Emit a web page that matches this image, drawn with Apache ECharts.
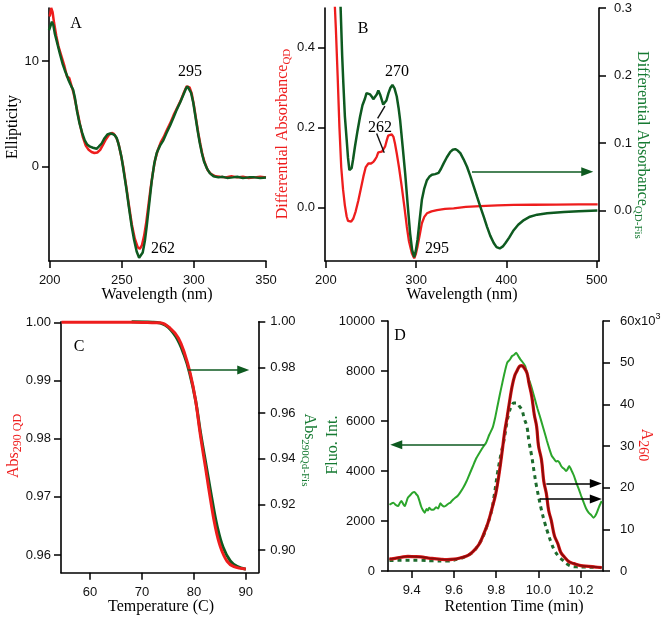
<!DOCTYPE html>
<html><head><meta charset="utf-8">
<script src="https://cdn.jsdelivr.net/npm/echarts@6/dist/echarts.min.js"></script>
<style>html,body{margin:0;padding:0;background:#fff}#c{width:664px;height:620px}</style>
</head><body><div id="c"></div>
<script>
// ---------- DATA ----------
// Panel A: CD spectra (wavelength nm, ellipticity)
const aRed = [[200,14.2],[201,15.0],[202,14.6],[203,13.6],[204.5,12.4],[206,11.4],[208,10.5],[210,9.6],[212,8.5],[213.5,8.4],[215,7.7],[216.5,7.0],[218,6.0],[219.5,5.0],[221,4.0],[223,2.8],[225,2.0],[227,1.6],[229,1.4],[231,1.3],[233,1.35],[235,1.6],[237,2.1],[239,2.6],[241,3.0],[243,3.2],[244.5,3.1],[246,2.8],[247.5,2.3],[249,1.4],[251,0.0],[253,-1.8],[255,-3.7],[257,-5.5],[259,-6.8],[261,-7.6],[262.5,-7.75],[264,-7.4],[265.5,-6.5],[267,-5.2],[268.5,-3.6],[270,-2.0],[271.5,-0.6],[273,0.6],[275,1.6],[277,2.3],[279,2.8],[281,3.4],[283.5,4.1],[286,4.9],[288.5,5.6],[291,6.3],[293,7.0],[295,7.6],[296,7.75],[297,7.5],[298.5,6.9],[300,5.8],[301.5,4.5],[303,3.2],[304.5,2.1],[306,1.1],[307.5,0.4],[309.5,-0.3],[312,-0.7],[315,-0.9],[318,-0.95],[322,-1.0],[326,-0.9],[330,-1.0],[334,-0.95],[338,-1.05],[342,-1.0],[346,-0.95],[350,-1.0]];
const aGreen = [[199.5,12.9],[200.5,13.3],[201.5,13.7],[202.5,13.4],[203.5,12.6],[205,11.8],[207,10.7],[209,9.7],[210.5,9.1],[212,8.6],[213,8.2],[214,7.9],[215,7.6],[216.2,7.3],[217.5,6.5],[219,5.2],[220.5,4.2],[222.5,3.2],[224.3,2.5],[226,2.1],[228,1.9],[230,1.8],[232.5,1.7],[234,1.9],[236,2.2],[238,2.7],[240,3.05],[242,3.15],[243.5,3.1],[245,3.0],[246.5,2.7],[248,2.0],[249.8,0.9],[251.5,-0.6],[253.3,-2.2],[255,-3.9],[256.8,-5.6],[258.5,-6.9],[260.3,-8.0],[262,-8.6],[263.2,-8.5],[264.5,-8.1],[266,-7.0],[267.2,-5.7],[269,-3.5],[270.7,-1.4],[272.5,0.3],[274.2,1.3],[276.5,2.0],[278.8,2.5],[281,3.2],[283.5,3.9],[286,4.7],[288.1,5.4],[290.5,6.1],[292.7,6.8],[294.5,7.4],[295.5,7.6],[296.5,7.5],[298,7.0],[299.5,6.1],[301,4.8],[302.5,3.5],[304,2.3],[305.5,1.3],[307,0.5],[309,-0.15],[311,-0.6],[313.6,-0.9],[317,-1.0],[320,-0.95],[323,-1.05],[327,-1.0],[330,-0.95],[334,-1.05],[338,-1.0],[342,-1.0],[346,-1.05],[350,-1.02]];
const aXTicks = [200,250,300,350];
const aYTicks = [0,10];

// Panel B: differential absorbance (QD on left axis, QD-Fis on right axis)
const bRedQD = [[207,0.62],[209,0.55],[211,0.45],[213,0.33],[215,0.2],[217,0.1],[219,0.045],[221,0.005],[223,-0.023],[224.5,-0.034],[226,-0.038],[228,-0.036],[230.4,-0.028],[233,-0.01],[236,0.018],[239,0.05],[241.5,0.077],[244,0.1],[247,0.11],[250,0.11],[252.6,0.114],[254.5,0.12],[256.3,0.127],[258,0.138],[260,0.143],[262,0.14],[263.7,0.139],[265.5,0.152],[267.4,0.168],[269,0.18],[271,0.185],[273,0.183],[274.8,0.177],[276.5,0.16],[278.5,0.135],[281,0.1],[284,0.052],[287,0.0],[289.6,-0.048],[292,-0.085],[295.2,-0.115],[297.8,-0.128],[299.5,-0.118],[301.5,-0.098],[304,-0.068],[306.3,-0.04],[309,-0.024],[311.9,-0.015],[317,-0.01],[323,-0.007],[332,-0.004],[341.5,-0.0025],[355,0.001],[371,0.003],[390,0.005],[408,0.006],[430,0.0065],[455,0.007],[480,0.0072],[501,0.0075]];
const bGreenQDFis = [[214,0.38],[216.3,0.3],[218,0.23],[219.3,0.189],[221,0.14],[223,0.105],[224.5,0.078],[226,0.06],[227.3,0.058],[228.5,0.063],[230,0.075],[232.2,0.095],[235,0.118],[237.8,0.139],[240.5,0.156],[243.3,0.166],[245,0.174],[247,0.176],[249,0.172],[250.7,0.169],[252.5,0.165],[254.4,0.164],[256.3,0.172],[258.1,0.178],[260,0.172],[261.9,0.164],[263.5,0.157],[264.8,0.155],[267,0.163],[269.3,0.174],[271.5,0.182],[273.7,0.186],[276,0.181],[278.5,0.169],[280.5,0.152],[282.2,0.134],[285,0.095],[287.8,0.055],[290.5,0.01],[293.3,-0.034],[295.5,-0.058],[297.8,-0.069],[299.5,-0.06],[301.5,-0.043],[304,-0.012],[306.3,0.016],[309,0.033],[311.9,0.045],[314.5,0.05],[317.4,0.053],[321,0.054],[324.8,0.056],[327.5,0.062],[330.4,0.07],[334,0.079],[337.8,0.087],[340.5,0.09],[343.3,0.091],[346,0.089],[348.9,0.085],[352.5,0.076],[356.3,0.065],[360,0.051],[363.7,0.036],[367.3,0.021],[371,0.006],[374.8,-0.009],[378.5,-0.024],[382,-0.037],[385.9,-0.048],[389,-0.054],[392.6,-0.056],[396,-0.053],[398.9,-0.048],[403,-0.04],[408,-0.029],[413,-0.021],[419.3,-0.014],[426,-0.009],[434,-0.006],[445,-0.004],[463.7,-0.002],[480,-0.001],[500.7,0.0]];
const bXTicks = [200,300,400,500];
const bYLeftTicks = [0,0.2,0.4];
const bYRightTicks = [0,0.1,0.2,0.3];

// Panel C: melting curves (temperature, normalised absorbance)
const cRedQD = [[54.5,1.0],[60,1.0],[65,1.0],[68.4,1.0],[71,0.99995],[73.5,0.9999],[75.4,0.999],[77,0.9973],[78.3,0.9944],[79.3,0.9912],[80.3,0.9867],[81.2,0.9809],[82.2,0.9752],[83.2,0.9695],[84.1,0.9649],[85.1,0.9614],[86.4,0.9589],[87.7,0.958],[90,0.9576]];
const cGreenQDFis = [[68,1.0],[72,0.9998],[74.5,0.9985],[76.5,0.9935],[78.1,0.9855],[79.2,0.9773],[80.3,0.9658],[81.3,0.951],[82.4,0.9365],[83.5,0.922],[84.5,0.9102],[85.6,0.9013],[87,0.8952],[88.3,0.8928],[90,0.8916]];
const cXTicks = [60,70,80,90];
const cYLeftTicks = [0.96,0.97,0.98,0.99,1.00];
const cYRightTicks = [0.90,0.92,0.94,0.96,0.98,1.00];

// Panel D: chromatograms (retention time, min)
const dFluo = [[9.295,2650],[9.313,2733],[9.325,2640],[9.336,2600],[9.344,2720],[9.352,2800],[9.36,2680],[9.367,2600],[9.375,2760],[9.382,2933],[9.395,3050],[9.405,3140],[9.413,3160],[9.421,3080],[9.429,3000],[9.437,2800],[9.444,2600],[9.452,2450],[9.462,2333],[9.47,2480],[9.477,2420],[9.483,2533],[9.494,2450],[9.506,2466],[9.515,2550],[9.525,2500],[9.536,2706],[9.545,2620],[9.553,2580],[9.56,2600],[9.567,2650],[9.575,2700],[9.583,2733],[9.595,2850],[9.606,2933],[9.617,3000],[9.629,3133],[9.645,3350],[9.66,3600],[9.675,3900],[9.69,4200],[9.705,4500],[9.721,4733],[9.737,4950],[9.752,5133],[9.767,5450],[9.783,5733],[9.794,6100],[9.806,6600],[9.818,7100],[9.829,7533],[9.84,7950],[9.852,8333],[9.864,8450],[9.875,8600],[9.885,8650],[9.894,8733],[9.904,8600],[9.914,8466],[9.925,8350],[9.937,8200],[9.948,7800],[9.96,7533],[9.972,7200],[9.983,6866],[9.995,6500],[10.006,6200],[10.018,5850],[10.029,5533],[10.04,5200],[10.052,4866],[10.063,4600],[10.075,4466],[10.083,4380],[10.091,4400],[10.099,4333],[10.107,4200],[10.114,4133],[10.122,4080],[10.13,4000],[10.137,4066],[10.145,4200],[10.152,4100],[10.16,3950],[10.168,3800],[10.18,3500],[10.191,3266],[10.202,3000],[10.214,2733],[10.225,2500],[10.237,2333],[10.248,2250],[10.26,2133],[10.268,2200],[10.276,2333],[10.288,2600],[10.299,2800]];
const dA260 = [[9.295,2.9],[9.313,2.97],[9.35,3.3],[9.382,3.5],[9.41,3.45],[9.444,3.37],[9.48,3.1],[9.506,2.97],[9.54,2.8],[9.567,2.73],[9.6,2.85],[9.629,3.13],[9.66,3.6],[9.675,4.0],[9.7,5.2],[9.721,6.6],[9.74,8.8],[9.76,11.4],[9.78,15.0],[9.798,18.6],[9.814,23.5],[9.829,29.1],[9.84,33.5],[9.852,37.1],[9.864,41.0],[9.875,44.3],[9.887,46.8],[9.898,48.0],[9.91,49.1],[9.921,49.3],[9.93,48.9],[9.945,47.6],[9.955,45.0],[9.968,41.9],[9.98,37.5],[9.991,34.7],[10.0,30.0],[10.014,26.7],[10.025,21.5],[10.037,18.6],[10.048,14.5],[10.06,12.2],[10.075,8.5],[10.091,6.6],[10.105,4.5],[10.122,3.37],[10.145,2.2],[10.168,1.77],[10.2,1.3],[10.237,1.12],[10.27,0.95],[10.299,0.8]];
const dA260Fis = [[9.295,2.5],[9.35,2.57],[9.444,2.57],[9.5,2.45],[9.567,2.4],[9.629,2.97],[9.66,3.6],[9.69,4.58],[9.715,6.2],[9.737,8.2],[9.756,10.8],[9.775,13.8],[9.79,18.0],[9.806,23.5],[9.822,28.0],[9.837,31.5],[9.85,35.5],[9.86,37.9],[9.872,39.6],[9.883,40.3],[9.898,40.3],[9.91,39.5],[9.921,38.7],[9.933,36.5],[9.945,34.7],[9.955,31.0],[9.968,27.5],[9.98,23.5],[9.991,20.2],[10.014,14.6],[10.03,11.5],[10.045,9.0],[10.06,6.8],[10.075,5.0],[10.095,3.5],[10.114,2.6],[10.135,1.7],[10.152,1.2],[10.18,1.0],[10.214,0.96],[10.25,0.9],[10.28,0.85]];
const dXTicks = [9.4,9.6,9.8,10.0,10.2];
const dYLeftTicks = [0,2000,4000,6000,8000,10000];
const dYRightTicks = [0,10,20,30,40,50,60];

// ---------- STYLE ----------
const SANS = "'Liberation Sans', Arial, Helvetica, sans-serif";
const SERIF = "'Liberation Serif', 'Times New Roman', serif";
const RED = '#ee1d1d', DKGREEN = '#0e5a20', TXTGREEN = '#167a32', LTGREEN = '#2ba52b', DKRED = '#8a0b0b';

function xAx(g, min, max, ticks, fmt) {
  return { type:'value', gridIndex:g, min:min, max:max, position:'bottom',
    axisLine:{show:true, onZero:false, lineStyle:{color:'#000', width:1.6}},
    axisTick:{show:true, inside:false, length:7, customValues:ticks, lineStyle:{color:'#000', width:1.5}},
    axisLabel:{customValues:ticks, formatter:fmt, margin:13, color:'#111', fontFamily:SANS, fontSize:13},
    splitLine:{show:false} };
}
function yAx(g, pos, min, max, ticks, fmt, margin, extra) {
  const o = { type:'value', gridIndex:g, min:min, max:max, position:pos,
    axisLine:{show:true, onZero:false, lineStyle:{color:'#000', width:1.6}},
    axisTick:{show:true, inside:false, length:7, customValues:ticks, lineStyle:{color:'#000', width:1.5}},
    axisLabel:{customValues:ticks, formatter:fmt, margin:margin, color:'#111', fontFamily:SANS, fontSize:13},
    splitLine:{show:false} };
  if (extra) Object.assign(o.axisLabel, extra);
  return o;
}
function line(xi, yi, data, color, width, opts) {
  return Object.assign({ type:'line', xAxisIndex:xi, yAxisIndex:yi, data:data, showSymbol:false, symbol:'none',
    lineStyle:{color:color, width:width}, itemStyle:{color:color}, silent:true }, opts || {});
}
function arrowML(pairs, color) {
  return { silent:true, label:{show:false}, symbol:['none','triangle'], symbolSize:[9,12],
    lineStyle:{color:color, width:1.5, type:'solid'}, itemStyle:{color:color},
    data:pairs.map(function(p){ return [{coord:p[0]},{coord:p[1]}]; }) };
}

const chart = echarts.init(document.getElementById('c'), null, {renderer:'canvas'});

const option = {
  animation:false,
  backgroundColor:'#fff',
  textStyle:{fontFamily:SANS},
  grid:[
    {left:49, top:8, width:217, height:253},
    {left:325, top:8, width:274, height:253},
    {left:61, top:321.7, width:197.3, height:251},
    {left:388, top:321, width:215, height:250}
  ],
  xAxis:[
    xAx(0, 199.5, 350, aXTicks, function(v){return String(v);}),
    xAx(1, 199, 502.5, bXTicks, function(v){return String(v);}),
    xAx(2, 54.4, 92.4, cXTicks, function(v){return String(v);}),
    xAx(3, 9.288, 10.305, dXTicks, function(v){return v.toFixed(1);})
  ],
  yAxis:[
    yAx(0, 'left', -8.9, 15, aYTicks, function(v){return String(v);}, 10),
    yAx(1, 'left', -0.1346, 0.5, bYLeftTicks, function(v){return v.toFixed(1);}, 10),
    yAx(1, 'right', -0.0746, 0.3, bYRightTicks, function(v){return v.toFixed(1);}, 15),
    yAx(2, 'left', 0.95696, 1.0001, cYLeftTicks, function(v){return v.toFixed(2);}, 10),
    yAx(2, 'right', 0.89006, 1.0, cYRightTicks, function(v){return v.toFixed(2);}, 12),
    yAx(3, 'left', 0, 10000, dYLeftTicks, function(v){return String(v);}, 13),
    yAx(3, 'right', 0, 60, dYRightTicks, function(v){return v === 60 ? '{a|60x10}{s|3}' : String(v);}, 17,
      {rich:{a:{fontFamily:SANS, fontSize:13, color:'#111', lineHeight:18}, s:{fontFamily:SANS, fontSize:9, color:'#111', lineHeight:9, verticalAlign:'top'}}})
  ],
  series:[
    line(0,0,aRed,RED,2.5),
    line(0,0,aGreen,DKGREEN,2.5),
    line(1,1,bRedQD,RED,2.3,{markLine:{silent:true, label:{show:false}, symbol:['none','none'],
      lineStyle:{color:'#111', width:1.4, type:'solid'},
      data:[[{coord:[257.3,0.223]},{coord:[265.4,0.254]}],[{coord:[256.2,0.185]},{coord:[264.6,0.137]}]]}}),
    line(1,2,bGreenQDFis,DKGREEN,2.5,{markLine:arrowML([[[361.8,0.0574],[489.5,0.0574]]],DKGREEN)}),
    line(2,4,cGreenQDFis,DKGREEN,3,{smooth:0.4, clip:false, markLine:arrowML([[[78.9,0.9788],[89.5,0.9788]]],DKGREEN)}),
    line(2,3,cRedQD,RED,3,{smooth:0.4, clip:false}),
    line(3,5,dFluo,LTGREEN,2,{smooth:0.2, markLine:arrowML([[[9.744,5050],[9.327,5050]]],DKGREEN)}),
    line(3,6,dA260Fis,'#1d6b2d',3,{smooth:0.4, lineStyle:{color:'#1d6b2d', width:3, type:[4,4]}}),
    line(3,6,dA260,'#e01818',3.2,{smooth:0.4}),
    line(3,6,dA260,DKRED,1.9,{smooth:0.4, markLine:arrowML([[[10.037,21.0],[10.271,21.0]],[[10.006,17.3],[10.271,17.3]]],'#000')})
  ]
};

function t(x, y, text, rotation, fill) {
  const el = {type:'text', x:x, y:y, silent:true, style:{text:text, fontFamily:SERIF, fontSize:16, fill:fill || '#000', align:'center', verticalAlign:'middle'}};
  if (rotation) el.rotation = rotation;
  return el;
}
function rt(x, y, text, rich, rotation) {
  return {type:'text', x:x, y:y, rotation:rotation, silent:true, style:{text:text, rich:rich, align:'center', verticalAlign:'middle', fontFamily:SERIF, fontSize:16}};
}
function subRich(color, mainSize, subSize) {
  return { m:{fontFamily:SERIF, fontSize:mainSize, fill:color, lineHeight:20},
           s:{fontFamily:SERIF, fontSize:subSize, fill:color, lineHeight:subSize, verticalAlign:'bottom'} };
}
const UP = Math.PI/2, DOWN = -Math.PI/2;
option.graphic = { elements: [
  t(157, 295, 'Wavelength (nm)'),
  t(462, 295, 'Wavelength (nm)'),
  t(161, 607, 'Temperature (C)'),
  t(514, 607, 'Retention Time (min)'),
  t(13, 127, 'Ellipticity', UP),
  rt(283, 134, '{m|Differential Absorbance}{s|QD}', subRich(RED,16,11), UP),
  rt(642, 145, '{m|Differential Absorbance}{s|QD-Fis}', subRich(TXTGREEN,16,11), DOWN),
  rt(14, 446, '{m|Abs}{s|290 QD}', subRich(RED,16,12), UP),
  rt(309, 450, '{m|Abs}{s|290Qd-Fis}', subRich(TXTGREEN,16,11), DOWN),
  t(333, 445, 'Fluo. Int.', UP, TXTGREEN),
  rt(646, 445, '{m|A}{s|260}', subRich(RED,16,14), DOWN),
  t(76, 24, 'A'), t(190, 72, '295'), t(163, 249, '262'),
  t(363, 29, 'B'), t(397, 72, '270'), t(380, 128, '262'), t(437, 249, '295'),
  t(79, 347, 'C'),
  t(400, 336, 'D')
]};

chart.setOption(option);
</script></body></html>
